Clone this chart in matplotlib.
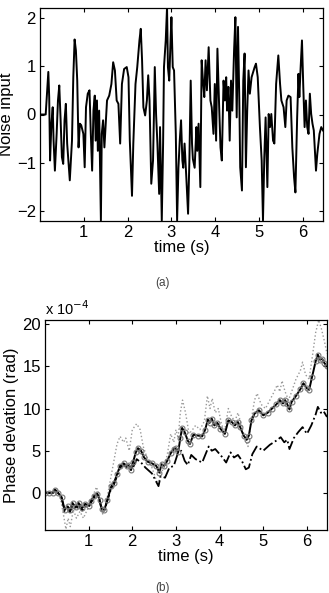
import numpy as np
import matplotlib
matplotlib.use('Agg')
import matplotlib.pyplot as plt

plt.rcParams['font.family'] = ['Liberation Sans', 'DejaVu Sans']

# --- (a) noise input ---
t_noise = [0.0, 0.13, 0.19, 0.21, 0.23, 0.26, 0.29, 0.31, 0.34, 0.38, 0.41, 0.44, 0.47,
           0.50, 0.53, 0.56, 0.59, 0.62, 0.68, 0.73, 0.76, 0.79, 0.82, 0.85, 0.88, 0.91,
           0.94, 0.99, 1.02, 1.05, 1.09, 1.13, 1.16, 1.19, 1.22, 1.25, 1.27, 1.30, 1.32,
           1.35, 1.39, 1.41, 1.44, 1.47, 1.50, 1.53, 1.58, 1.63, 1.67, 1.71, 1.75, 1.79,
           1.83, 1.87, 1.92, 1.98, 2.02, 2.05, 2.10, 2.13, 2.18, 2.22, 2.27, 2.30, 2.33,
           2.36, 2.40, 2.44, 2.47, 2.50, 2.54, 2.58, 2.60, 2.62, 2.65, 2.68, 2.72, 2.74,
           2.78, 2.81, 2.83, 2.87, 2.90, 2.92, 2.95, 2.98, 3.00, 3.03, 3.06, 3.10, 3.13,
           3.16, 3.19, 3.22, 3.25, 3.27, 3.30, 3.34, 3.38, 3.41, 3.44, 3.47, 3.49, 3.53,
           3.57, 3.59, 3.62, 3.66, 3.69, 3.72, 3.75, 3.78, 3.81, 3.85, 3.89, 3.92, 3.96,
           3.99, 4.02, 4.05, 4.09, 4.12, 4.15, 4.19, 4.22, 4.25, 4.27, 4.30, 4.33, 4.36,
           4.39, 4.43, 4.46, 4.49, 4.52, 4.55, 4.57, 4.61, 4.64, 4.67, 4.70, 4.73, 4.76,
           4.79, 4.83, 4.90, 4.93, 4.97, 5.02, 5.06, 5.09, 5.12, 5.15, 5.19, 5.22, 5.25,
           5.28, 5.32, 5.35, 5.39, 5.44, 5.48, 5.51, 5.56, 5.60, 5.63, 5.67, 5.72, 5.76,
           5.80, 5.83, 5.87, 5.90, 5.92, 5.95, 5.98, 6.01, 6.04, 6.07, 6.10, 6.13, 6.16,
           6.19, 6.22, 6.25, 6.30, 6.33, 6.38, 6.42, 6.46]
noise = [0.0, 0.0, 0.88, 0.36, -0.95, -0.2, 0.15, -0.54, -1.16, -0.4, 0.29, 0.6, -0.1,
         -0.88, -1.02, -0.12, 0.22, -0.6, -1.36, -0.54, 0.77, 1.55, 1.32, 0.7, -0.68, -0.19,
         -0.22, -0.4, -1.09, 0.15, 0.43, 0.5, -0.4, -1.16, 0.08, 0.39, -0.54, 0.29, -0.75,
         0.08, -2.19, -0.4, -0.12, -0.68, -0.19, 0.29, 0.39, 0.63, 1.08, 0.91, 0.29, 0.22,
         -0.6, 0.63, 0.94, 0.98, 0.77, -0.54, -1.68, -0.6, 0.63, 0.98, 1.53, 1.77, 1.12,
         0.15, -0.02, 0.29, 0.81, 0.29, -1.43, -0.95, -0.05, 0.98, 0.0, -0.6, -1.64, -0.26,
         -2.19, -0.6, 0.98, 1.53, 2.22, 0.98, 0.7, 1.53, 2.01, 0.98, 0.91, -0.4, -2.19,
         -1.1, -0.54, -0.12, -0.95, -1.1, -0.6, -1.3, -2.05, -0.95, 0.7, -0.6, -0.92, -1.1,
         -0.26, -0.75, -0.19, -1.5, 1.12, 0.7, 0.36, 1.12, 0.5, 1.39, 0.29, 0.15, -0.4,
         0.63, -0.54, 1.36, 0.15, -0.68, -0.95, 0.7, 0.29, 0.77, 0.08, 0.57, -0.54, 0.7,
         0.08, 1.32, 2.01, -0.06, 1.81, 0.29, -1.09, -1.57, 0.7, 1.26, -1.09, 0.08, 0.91,
         0.43, 0.77, 0.98, 1.05, 0.77, -0.26, -0.95, -2.19, -0.88, -0.06, -1.5, 0.01, -0.26,
         0.01, -0.54, -0.6, 0.63, 1.22, 0.63, 0.29, 0.15, -0.26, 0.29, 0.39, 0.36, -0.68,
         -1.3, -1.61, -0.06, 0.84, 0.36, 0.98, 1.53, 0.57, -0.26, 0.29, -0.26, -0.4, 0.43,
         0.01, -0.19, -0.33, -1.16, -0.81, -0.4, -0.26, -0.33]

# --- (b) phase deviation, in units of 1e-4 rad ---
t_main = [0.0, 0.1, 0.18, 0.23, 0.3, 0.38, 0.45, 0.52, 0.57, 0.63, 0.7, 0.77, 0.85, 0.92,
          1.0, 1.05, 1.12, 1.2, 1.25, 1.3, 1.36, 1.43, 1.52, 1.58, 1.65, 1.72, 1.8, 1.88,
          1.93, 1.97, 2.02, 2.08, 2.13, 2.2, 2.27, 2.35, 2.45, 2.55, 2.62, 2.67, 2.73, 2.8,
          2.88, 2.95, 3.0, 3.05, 3.1, 3.14, 3.2, 3.27, 3.32, 3.4, 3.5, 3.6, 3.67, 3.73, 3.77,
          3.82, 3.88, 3.95, 4.02, 4.12, 4.2, 4.28, 4.35, 4.42, 4.47, 4.55, 4.62, 4.67, 4.73,
          4.8, 4.9, 5.0, 5.1, 5.2, 5.3, 5.38, 5.45, 5.5, 5.55, 5.6, 5.65, 5.75, 5.85, 5.92,
          6.0, 6.05, 6.12, 6.2, 6.25, 6.3, 6.35, 6.4, 6.46]
phase_main = [0.0, 0.0, 0.0, 0.4, 0.0, -0.5, -2.0, -1.6, -2.0, -1.2, -1.7, -1.2, -1.8, -1.3,
              -1.5, -1.0, -0.4, -0.1, -0.8, -1.9, -2.0, -0.8, 0.8, 1.2, 2.2, 3.2, 3.5, 3.2,
              3.3, 2.7, 3.7, 4.8, 5.3, 5.0, 4.2, 3.7, 3.5, 3.2, 2.4, 3.4, 3.2, 3.8, 4.7, 5.2,
              5.3, 4.8, 6.5, 7.7, 7.2, 6.2, 5.8, 6.9, 6.8, 6.7, 7.5, 8.7, 8.3, 8.8, 8.0, 8.3,
              7.6, 7.0, 8.6, 8.4, 8.0, 8.4, 7.8, 6.8, 6.3, 6.8, 8.6, 9.4, 9.8, 9.2, 9.5, 10.0,
              10.5, 11.0, 10.6, 11.0, 10.5, 9.9, 10.8, 11.5, 12.3, 13.0, 12.4, 12.2, 13.8,
              15.6, 16.4, 15.8, 15.9, 15.4, 15.0]

t_dotted = [0.0, 0.25, 0.35, 0.42, 0.48, 0.53, 0.58, 0.65, 0.72, 0.8, 0.88, 0.95, 1.02, 1.1,
            1.18, 1.25, 1.32, 1.38, 1.45, 1.55, 1.65, 1.72, 1.8, 1.85, 1.93, 2.0, 2.1, 2.18,
            2.25, 2.35, 2.45, 2.55, 2.6, 2.65, 2.72, 2.8, 2.88, 2.95, 3.0, 3.05, 3.1, 3.15,
            3.22, 3.3, 3.38, 3.45, 3.55, 3.65, 3.72, 3.78, 3.83, 3.9, 3.97, 4.05, 4.12, 4.2,
            4.28, 4.35, 4.42, 4.5, 4.58, 4.65, 4.72, 4.8, 4.86, 4.95, 5.05, 5.15, 5.25, 5.32,
            5.38, 5.43, 5.5, 5.58, 5.65, 5.75, 5.85, 5.9, 5.97, 6.05, 6.12, 6.2, 6.27, 6.33,
            6.4, 6.46]
phase_dotted = [0.0, 0.2, -0.5, -2.5, -4.3, -3.0, -4.0, -2.0, -3.0, -2.2, -3.0, -2.2, -1.5,
                -0.3, 0.7, -0.5, -2.5, -2.0, 0.2, 3.0, 5.8, 6.7, 6.0, 6.5, 5.0, 7.5, 8.2, 7.5,
                5.5, 4.0, 3.0, 1.5, 1.0, 2.5, 2.8, 4.5, 7.0, 6.0, 7.5, 6.5, 9.5, 11.0, 9.5,
                7.0, 7.5, 8.0, 7.5, 8.5, 11.5, 10.0, 11.2, 9.5, 10.0, 8.0, 7.5, 10.0, 9.0, 8.5,
                9.5, 8.0, 6.5, 5.5, 8.5, 11.0, 11.8, 10.5, 10.0, 11.0, 12.0, 12.8, 12.0, 13.3,
                12.0, 11.0, 12.0, 13.5, 14.5, 15.5, 14.0, 13.5, 16.0, 19.0, 20.5, 19.5, 18.0,
                16.5]

t_dashdot = [0.0, 0.1, 0.18, 0.23, 0.3, 0.38, 0.45, 0.52, 0.57, 0.63, 0.7, 0.77, 0.85,
             0.92, 1.0, 1.05, 1.12, 1.2, 1.25, 1.3, 1.36, 1.43, 1.52, 1.58, 1.65, 1.72, 1.8,
             1.9, 2.0, 2.1, 2.2, 2.3, 2.45, 2.6, 2.65, 2.75, 2.85, 2.95, 3.05, 3.12, 3.2,
             3.27, 3.35, 3.45, 3.6, 3.75, 3.82, 3.9, 4.05, 4.15, 4.25, 4.33, 4.42, 4.5, 4.6,
             4.67, 4.75, 4.85, 5.0, 5.15, 5.3, 5.4, 5.48, 5.55, 5.6, 5.7, 5.8, 5.9, 6.0, 6.1,
             6.2, 6.25, 6.32, 6.38, 6.46]
phase_dashdot = [0.0, 0.0, 0.0, 0.3, 0.0, -0.6, -2.2, -1.9, -2.3, -1.5, -2.0, -1.5, -2.1,
                 -1.6, -1.7, -1.2, -0.6, -0.2, -1.0, -2.0, -2.1, -0.9, 0.6, 1.0, 2.0, 3.0, 3.3,
                 3.0, 2.8, 4.0, 3.6, 3.0, 2.3, 0.8, 2.0, 1.8, 3.0, 3.2, 4.8, 5.0, 3.8, 3.3,
                 4.5, 4.0, 3.6, 5.5, 5.0, 5.2, 4.3, 3.6, 4.8, 4.2, 4.5, 3.9, 2.8, 3.0, 4.6,
                 5.5, 5.0, 5.7, 6.2, 6.6, 6.0, 6.3, 5.2, 6.5, 7.2, 7.8, 7.0, 8.0, 9.3, 10.2,
                 9.5, 9.7, 9.0]

fs = 12
W, H = 329, 593
fig = plt.figure(figsize=(W / 100, H / 100), dpi=100)


def style(ax):
    ax.tick_params(direction='in', length=3, width=0.8, top=True, right=True,
                   labelsize=fs, pad=3)
    for s in ax.spines.values():
        s.set_linewidth(0.9)


# ---------- (a) ----------
ax1 = fig.add_axes([40 / W, 1 - 221 / H, 283 / W, 213 / H])
ax1.plot(t_noise, noise, color='black', linewidth=1.4)
ax1.set_xlim(0, 6.46)
ax1.set_ylim(-2.2, 2.2)
ax1.set_xticks([1, 2, 3, 4, 5, 6])
ax1.set_yticks([-2, -1, 0, 1, 2])
ax1.set_xlabel('time (s)', fontsize=fs, labelpad=0)
ax1.set_ylabel('Noise input', fontsize=fs, labelpad=2)
style(ax1)
fig.text(163 / W, 1 - 283 / H, '(a)', fontsize=8.5, color='#444444', ha='center', va='center')

# ---------- (b) ----------
ax2 = fig.add_axes([45 / W, 1 - 530 / H, 282 / W, 210 / H])
ax2.plot(t_dotted, phase_dotted, color='#999999', linestyle=':', linewidth=1.0)
ax2.plot(t_dashdot, phase_dashdot, color='black', linestyle='-.', linewidth=1.3)
ax2.plot(t_main, phase_main, color='black', linewidth=1.4, marker='o', markersize=3.5,
         markerfacecolor='none', markeredgecolor='#777777', markeredgewidth=0.8)
ax2.set_xlim(0, 6.46)
ax2.set_ylim(-4.4, 20.5)
ax2.set_xticks([1, 2, 3, 4, 5, 6])
ax2.set_yticks([0, 5, 10, 15, 20])
ax2.set_xlabel('time (s)', fontsize=fs, labelpad=0)
ax2.set_ylabel('Phase devation (rad)', fontsize=fs, labelpad=2)
style(ax2)
ax2.text(0.0, 1.01, r'x 10$^{-4}$', transform=ax2.transAxes, fontsize=10.5,
         ha='left', va='bottom')
fig.text(163 / W, 1 - 588 / H, '(b)', fontsize=8.5, color='#444444', ha='center', va='center')

fig.savefig('out.png', dpi=100)
